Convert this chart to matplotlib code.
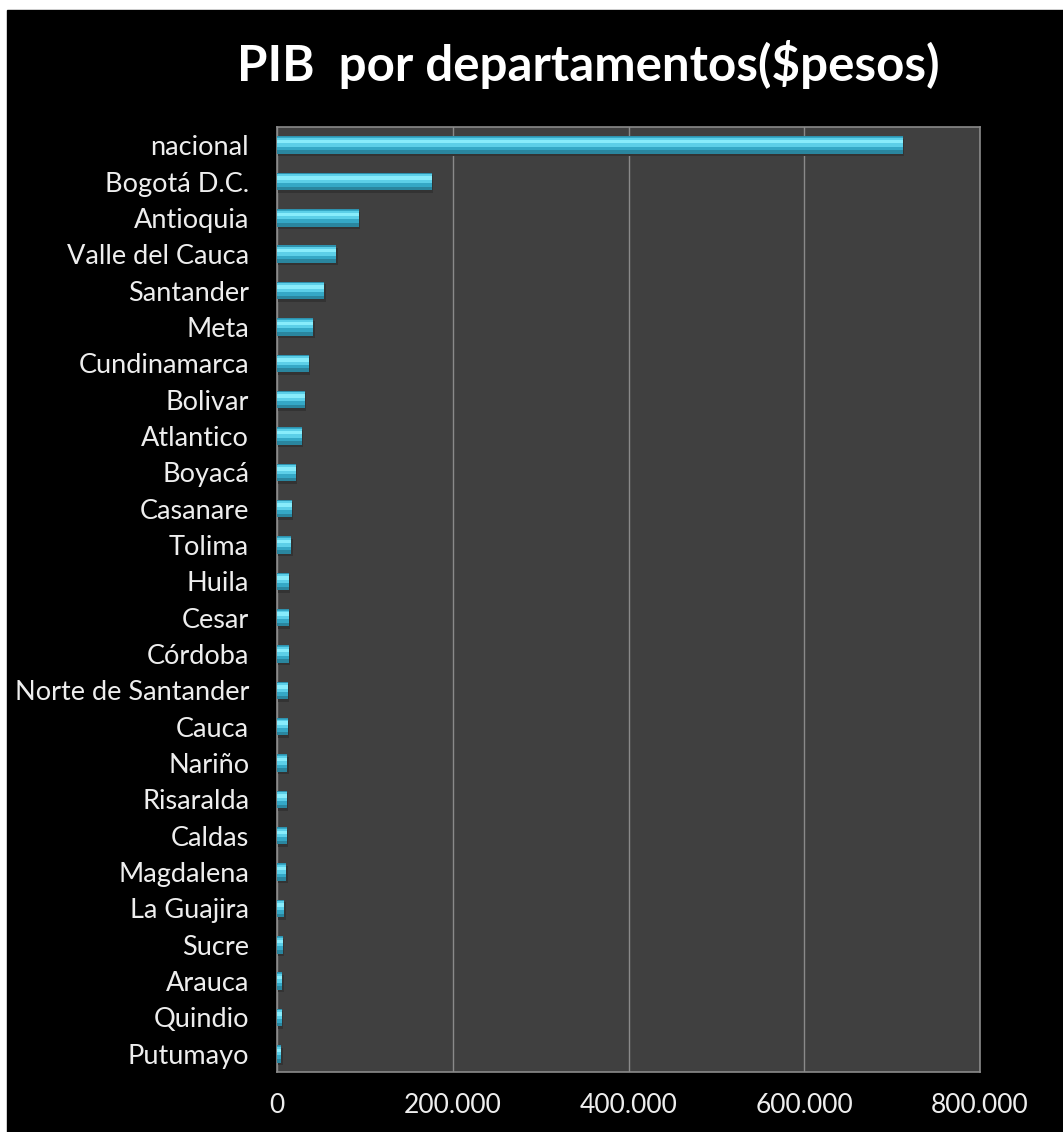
import matplotlib.pyplot as plt
from matplotlib.patches import Rectangle
from matplotlib.ticker import FuncFormatter


departamentos = [
    "nacional", "Bogotá D.C.", "Antioquia", "Valle del Cauca", "Santander",
    "Meta", "Cundinamarca", "Bolivar", "Atlantico", "Boyacá", "Casanare",
    "Tolima", "Huila", "Cesar", "Córdoba", "Norte de Santander", "Cauca",
    "Nariño", "Risaralda", "Caldas", "Magdalena", "La Guajira", "Sucre",
    "Arauca", "Quindio", "Putumayo",
]
pib = [
    712000, 176000, 93500, 67500, 54000,
    41400, 36100, 31500, 28100, 21600, 16700,
    16500, 13700, 13600, 13500, 12200, 12000,
    11900, 11000, 10900, 10500, 8300, 6400,
    6000, 5300, 5000,
]
xticks = [0, 200000, 400000, 600000, 800000]

plt.rcParams['font.family'] = ['Lato', 'DejaVu Sans']


def miles(v, pos):
    return f"{int(v):,}".replace(",", ".")


def main():
    fig = plt.figure(figsize=(10.63, 11.32), dpi=100)
    fig.patch.set_facecolor("white")
    # black panel, thin white margin on the top and left
    fig.patches.append(Rectangle((7 / 1063, 0), 1, 1 - 10 / 1132,
                                 transform=fig.transFigure, color="black",
                                 zorder=-10))

    ax = fig.add_axes([277 / 1063, 1 - 1072 / 1132, 703 / 1063, 945 / 1132])
    ax.set_facecolor("#404040")

    y = list(range(len(departamentos)))
    h = 0.48
    # soft shadow, base, then bands for the bevel look
    ax.barh([v + 0.07 for v in y], pib, height=h, left=1500,
            color="#333333", zorder=2)
    ax.barh(y, pib, height=h, color="#35a8c6", zorder=3)
    ax.barh([v + h * 0.4 for v in y], pib, height=h * 0.2,
            color="#2a869f", zorder=4)
    ax.barh([v - h * 0.16 for v in y], pib, height=h * 0.5,
            color="#5ccfe8", zorder=4)
    ax.barh([v - h * 0.2 for v in y], pib, height=h * 0.2,
            color="#88ecfb", zorder=5)
    ax.barh([v - h * 0.47 for v in y], pib, height=h * 0.06,
            color="#2e92ae", zorder=5)

    ax.set_xlim(0, 800000)
    ax.set_ylim(len(departamentos) - 0.5, -0.5)
    ax.set_xticks(xticks)
    ax.xaxis.set_major_formatter(FuncFormatter(miles))
    ax.set_yticks(y)
    ax.set_yticklabels(departamentos)
    ax.tick_params(axis="x", length=0, pad=15, labelsize=19, colors="#eeeeee")
    ax.tick_params(axis="y", length=0, pad=20, labelsize=19.5, colors="#eeeeee")

    ax.grid(axis="x", color="#8a8a8a", linewidth=1.0, zorder=1)
    ax.set_axisbelow(True)
    for s in ax.spines.values():
        s.set_color("#8a8a8a")
        s.set_linewidth(1.2)

    fig.text(0.553, 0.943, r"PIB  por departamentos(\$pesos)", ha="center",
             va="center", fontsize=35.5, fontweight="bold", color="white")

    fig.savefig("out.png", dpi=100, facecolor=fig.get_facecolor())


if __name__ == '__main__':
    main()
